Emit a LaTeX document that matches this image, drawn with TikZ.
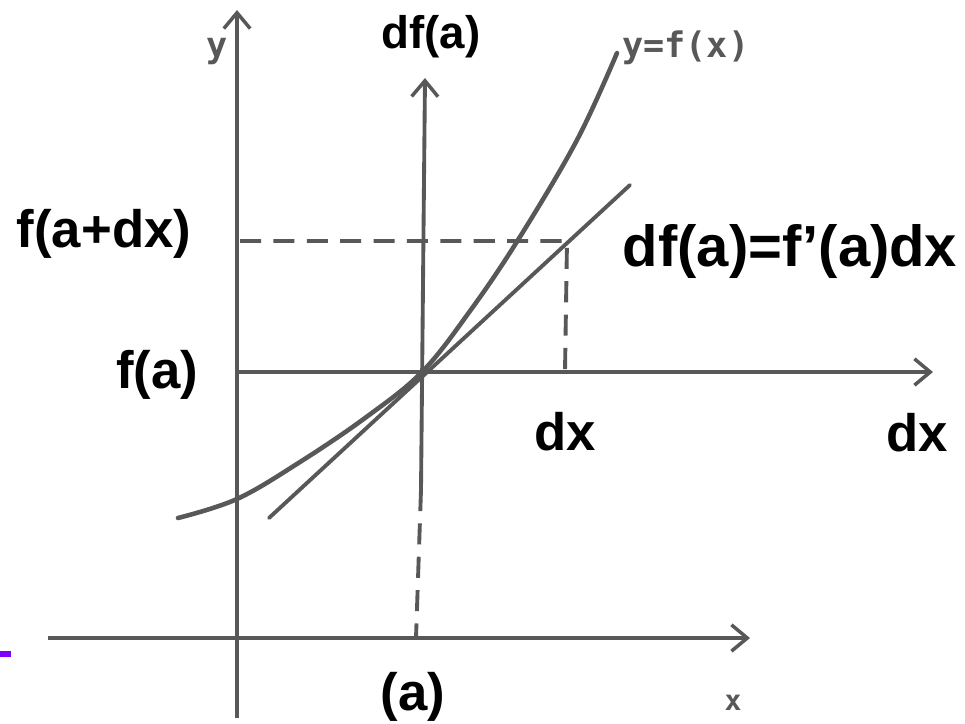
\documentclass[tikz,border=0pt]{standalone}
\usepackage{fontspec}
\setmainfont{Liberation Sans}
\newfontfamily\handfont{DejaVu Sans Mono}
\usepackage{tikz}
\usetikzlibrary{arrows.meta, positioning, calc}
\definecolor{pencil}{RGB}{88,88,88}
\definecolor{slidebar}{RGB}{128,0,255}

\begin{document}
\begin{tikzpicture}[
    x=0.02cm, y=-0.02cm,
    arrow/.style={draw=pencil, line width=2.2pt, -{Straight Barb[length=9pt, width=15pt, line width=2pt]}},
    guide/.style={draw=pencil, line width=2.2pt, dash pattern=on 12pt off 7pt},
    graph/.style={draw=pencil, line width=2.6pt, line cap=round},
    lbl/.style={font=\fontsize{30}{36}\selectfont\bfseries, inner sep=0pt},
    hand/.style={font=\handfont\bfseries\fontsize{20}{24}\selectfont, text=pencil, inner sep=0pt}
]
\useasboundingbox (0,0) rectangle (965,724);

% axes
\coordinate (ybot) at (237,718);
\coordinate (ytop) at (237,10);
\coordinate (xleft) at (48,638);
\coordinate (xright) at (750,638);
\coordinate (dxleft) at (237,372);
\coordinate (dxright) at (933,372);
\coordinate (a) at (422,372);
\coordinate (dfbot) at (421,490);
\coordinate (dftop) at (425,78);
\coordinate (afoot) at (416,638);

\draw[arrow] (ybot) -- (ytop);
\draw[arrow] (xleft) -- (xright);
\draw[arrow] (dxleft) -- (dxright);
\draw[arrow] (dfbot) -- (dftop);
\draw[guide] (dfbot) -- (afoot);

% tangent and increment
\coordinate (tanlow) at (269,518);
\coordinate (tanhigh) at (630,185);
\coordinate (p) at (567,241);
\coordinate (fadx) at (240,241);
\coordinate (dxfoot) at (565,372);

\draw[graph, line width=2.2pt] (tanlow) -- (tanhigh);
\draw[guide] (fadx) -- (p) -- (dxfoot);

% curve
\draw[graph] plot[smooth, tension=0.6] coordinates {(178,518) (237,499) (300,462) (365,418) (422,372) (470,311) (518,240) (577,140) (617,53)};

% labels
\node[lbl] (fadxlbl) at (104,234) {f(a+dx)};
\node[lbl] (falbl) at (157,375) {f(a)};
\node[lbl, font=\fontsize{26}{30}\selectfont\bfseries] (dflbl) at (431,37) {df(a)};
\node[lbl, font=\fontsize{33}{38}\selectfont\bfseries] (formula) at (790,252) {df(a)=f’(a)dx};
\node[lbl] (dxmid) at (565,432) {dx};
\node[lbl] (dxend) at (917,433) {dx};
\node[lbl] (albl) at (413,697) {(a)};
\node[hand, anchor=west] (curvelbl) at (622,48) {y=f(x)};
\node[hand] (ylbl) at (217,52) {y};
\node[hand, font=\handfont\bfseries\fontsize{16}{18}\selectfont] (xlbl) at (733,703) {x};

\fill[slidebar] (0,651) rectangle (11,657);

\end{tikzpicture}
\end{document}
